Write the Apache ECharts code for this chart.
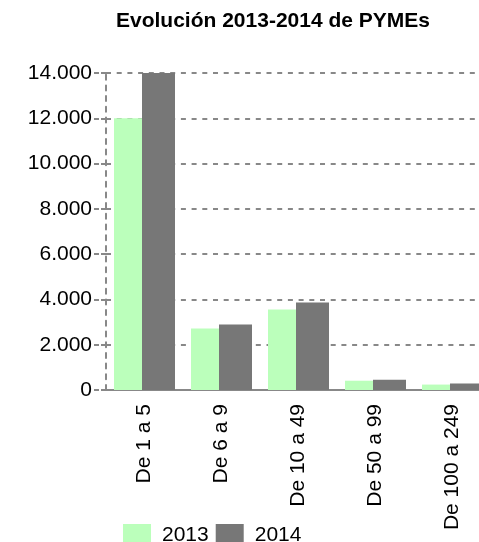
<!DOCTYPE html>
<html><head><meta charset="utf-8">
<script src="https://cdn.jsdelivr.net/npm/echarts@6/dist/echarts.min.js"></script>
<style>html,body{margin:0;padding:0;background:#fff}#c{width:479px;height:542px}</style>
</head><body><div id="c"></div>
<script>
const categories = ['De 1 a 5', 'De 6 a 9', 'De 10 a 49', 'De 50 a 99', 'De 100 a 249'];
const values2013 = [12000, 2720, 3550, 410, 240];
const values2014 = [14000, 2890, 3860, 450, 290];
const seriesNames = ['2013', '2014'];

const font = 'Liberation Sans, Arial, sans-serif';
const chart = echarts.init(document.getElementById('c'), null, {renderer: 'canvas'});
const fmt = v => String(v).replace(/\B(?=(\d{3})+(?!\d))/g, '.');
chart.setOption({
  animation: false,
  title: {
    text: 'Evolución 2013-2014 de PYMEs',
    left: 111, top: 6,
    textStyle: {fontFamily: font, fontSize: 21, fontWeight: 'bold', color: '#000'}
  },
  legend: {
    data: seriesNames,
    left: 118, top: 519,
    itemWidth: 28, itemHeight: 22, itemGap: 7, icon: 'rect',
    textStyle: {fontFamily: font, fontSize: 21, color: '#000', padding: [0, 0, 0, 6]}
  },
  grid: {left: 106, width: 385, top: 73, height: 317, outerBoundsMode: 'none', containLabel: false},
  xAxis: {
    type: 'category', data: categories,
    axisLine: {lineStyle: {color: '#888', width: 2}},
    axisTick: {length: 12, lineStyle: {color: '#888', width: 2}},
    axisLabel: {rotate: 90, margin: 14, fontFamily: font, fontSize: 21, color: '#000'}
  },
  yAxis: {
    type: 'value', min: 0, max: 14000, interval: 2000,
    axisLine: {show: true, lineStyle: {color: '#888', width: 2, type: [5, 5.7]}},
    axisTick: {show: true, length: 13, lineStyle: {color: '#888', width: 2, type: [5, 2]}},
    axisLabel: {margin: 14, fontFamily: font, fontSize: 21, color: '#000', formatter: fmt},
    splitLine: {lineStyle: {color: '#888', width: 2, type: [5, 5.7]}}
  },
  series: [
    {name: seriesNames[0], type: 'bar', data: values2013, barWidth: 28, barGap: 0, itemStyle: {color: '#bbffbb'}},
    {name: seriesNames[1], type: 'bar', data: values2014, barWidth: 33, barGap: 0, itemStyle: {color: '#777777'}}
  ]
});
</script></body></html>
